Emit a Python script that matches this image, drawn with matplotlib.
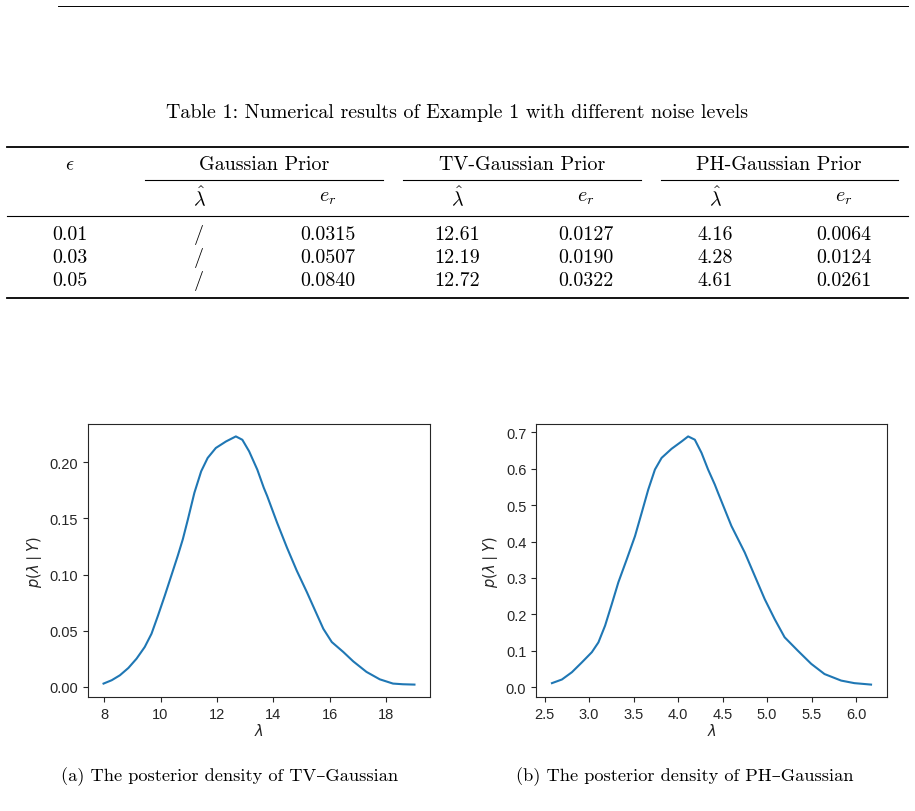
import matplotlib
matplotlib.use("Agg")
import matplotlib.pyplot as plt
from matplotlib.lines import Line2D
from matplotlib.ticker import MultipleLocator

# table data
noise_levels = ["0.01", "0.03", "0.05"]
gauss_lambda = ["/", "/", "/"]
gauss_er = ["0.0315", "0.0507", "0.0840"]
tv_lambda = ["12.61", "12.19", "12.72"]
tv_er = ["0.0127", "0.0190", "0.0322"]
ph_lambda = ["4.16", "4.28", "4.61"]
ph_er = ["0.0064", "0.0124", "0.0261"]

# posterior density, TV-Gaussian
tv_x = [7.98, 8.27, 8.56, 8.86, 9.15, 9.44, 9.68, 9.91, 10.15, 10.38, 10.61,
        10.79, 10.97, 11.2, 11.44, 11.67, 11.96, 12.32, 12.67, 12.9, 13.14,
        13.43, 13.66, 13.78, 14.13, 14.48, 14.83, 15.19, 15.48, 15.77, 16.07,
        16.48, 16.83, 17.3, 17.77, 18.24, 18.59, 19.0]
tv_p = [0.0029, 0.0059, 0.0103, 0.0168, 0.0251, 0.0355, 0.0473, 0.0635,
        0.0812, 0.0989, 0.1167, 0.1315, 0.1492, 0.1729, 0.192, 0.2039, 0.2128,
        0.2186, 0.2231, 0.2201, 0.2098, 0.1935, 0.1773, 0.170, 0.1463, 0.1241,
        0.1034, 0.0842, 0.0679, 0.0517, 0.0399, 0.0310, 0.0227, 0.0133,
        0.0067, 0.0029, 0.0023, 0.0020]

# posterior density, PH-Gaussian
ph_x = [2.583, 2.695, 2.807, 2.919, 3.031, 3.105, 3.18, 3.255, 3.329, 3.423,
        3.516, 3.591, 3.665, 3.74, 3.815, 3.927, 4.039, 4.113, 4.188, 4.263,
        4.337, 4.412, 4.449, 4.599, 4.749, 4.861, 4.973, 5.085, 5.197, 5.346,
        5.496, 5.645, 5.832, 5.98, 6.168]
ph_p = [0.011, 0.021, 0.041, 0.068, 0.096, 0.123, 0.169, 0.228, 0.288, 0.351,
        0.415, 0.479, 0.543, 0.598, 0.630, 0.655, 0.675, 0.689, 0.680, 0.644,
        0.598, 0.557, 0.534, 0.443, 0.370, 0.306, 0.242, 0.187, 0.137, 0.100,
        0.064, 0.036, 0.018, 0.011, 0.007]

W, H = 915, 812
fig = plt.figure(figsize=(W / 100, H / 100), dpi=100)

serif = ["cmr10", "DejaVu Serif"]
tsize = 14.4


def fx(px):
    return px / W


def fy(py):
    return 1 - py / H


def hline(x0, x1, y, lw):
    fig.add_artist(Line2D([fx(x0), fx(x1)], [fy(y), fy(y)], color="black",
                          lw=lw, transform=fig.transFigure))


def txt(x, y, s, size=tsize):
    fig.text(fx(x), fy(y), s, ha="center", va="center", fontsize=size,
             family=serif, math_fontfamily="cm")


# page header rule
hline(58, 908, 7, 0.7)

txt(457, 113, "Table 1: Numerical results of Example 1 with different noise levels")

# table rules
hline(7, 908, 148, 1.3)
hline(145, 383, 181, 0.8)
hline(403, 641, 181, 0.8)
hline(661, 898, 181, 0.8)
hline(7, 908, 217, 0.8)
hline(7, 908, 299, 1.3)

txt(70, 165, r"$\epsilon$")
txt(264, 165, "Gaussian Prior")
txt(522, 165, "TV-Gaussian Prior")
txt(779, 165, "PH-Gaussian Prior")
col_x = [199, 328, 457, 586, 715, 844]
for i, cx in enumerate(col_x):
    txt(cx, 198, r"$\hat{\lambda}$" if i % 2 == 0 else r"$e_r$")

row_y = [235, 258, 281]
columns = [noise_levels, gauss_lambda, gauss_er, tv_lambda, tv_er, ph_lambda, ph_er]
xs = [70] + col_x
for col, cx in zip(columns, xs):
    for val, ry in zip(col, row_y):
        txt(cx, ry, val)

# plots
plt.rcParams["font.family"] = ["Liberation Sans", "DejaVu Sans"]
dark = "#262626"
axes_specs = [
    ([fx(88), fy(698), fx(430 - 88), (698 - 425) / H], tv_x, tv_p, 2, 0.05),
    ([fx(536), fy(698), fx(887 - 536), (698 - 425) / H], ph_x, ph_p, 0.5, 0.1),
]
for rect, x, p, xstep, ystep in axes_specs:
    ax = fig.add_axes(rect)
    ax.plot(x, p, color="#1f77b4", lw=1.5)
    ax.xaxis.set_major_locator(MultipleLocator(xstep))
    ax.yaxis.set_major_locator(MultipleLocator(ystep))
    ax.tick_params(labelsize=10.5, colors=dark, length=3.5, width=0.8)
    for s in ax.spines.values():
        s.set_color(dark)
        s.set_linewidth(0.8)
    ax.set_xlabel(r"$\lambda$", fontsize=10.5, color=dark, labelpad=1,
                  math_fontfamily="dejavusans")
    ax.set_ylabel(r"$p(\lambda \mid Y)$", fontsize=10.5, color=dark, labelpad=4,
                  math_fontfamily="dejavusans")

txt(230, 777, "(a) The posterior density of TV–Gaussian", size=13.2)
txt(685, 777, "(b) The posterior density of PH–Gaussian", size=13.2)

fig.savefig("out.png", dpi=100)
